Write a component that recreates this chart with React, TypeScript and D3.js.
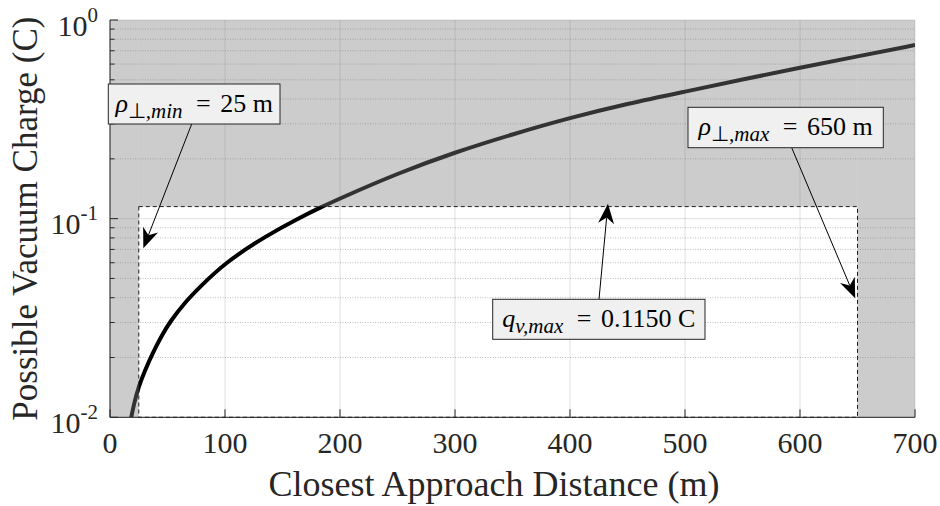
import React from 'react';
import * as d3 from 'd3';

// ---- data ----
const distances = [18.5, 21, 25, 30, 37, 45, 52, 65, 78, 100, 136, 165, 183, 200, 250, 300, 350, 400, 450, 500, 550, 600, 650, 700];
const charges = [0.01, 0.0118, 0.0143, 0.017, 0.021, 0.0258, 0.0302, 0.0378, 0.0452, 0.06, 0.0822, 0.1012, 0.1138, 0.1265, 0.169, 0.216, 0.266, 0.322, 0.379, 0.436, 0.502, 0.575, 0.656, 0.748];
const xTickValues = [0, 100, 200, 300, 400, 500, 600, 700];
const yTickExponents = [-2, -1, 0];
const rhoMin = 25;
const rhoMax = 650;
const qMax = 0.115;
const xLabel = 'Closest Approach Distance (m)';
const yLabel = 'Possible Vacuum Charge (C)';
// arrow tips in data units
const tipMin = [29, 0.071];
const tipMax = [648, 0.0397];
const tipQ = [433, 0.119];

const W = 940, H = 506;
const L = 110, R = 915, T = 20, B = 417.3;
const axisColor = '#262626';
const serif = '"Liberation Serif", "Times New Roman", serif';

function Arrow({ x1, y1, x2, y2 }: { x1: number; y1: number; x2: number; y2: number }) {
  const dx = x2 - x1, dy = y2 - y1;
  const len = Math.hypot(dx, dy);
  const ux = dx / len, uy = dy / len;
  const nx = -uy, ny = ux;
  const hl = 20, hw = 8, notch = 0.7;
  const bx = x2 - hl * ux, by = y2 - hl * uy;
  const pts = [
    [x2, y2],
    [bx + hw * nx, by + hw * ny],
    [x2 - notch * hl * ux, y2 - notch * hl * uy],
    [bx - hw * nx, by - hw * ny],
  ];
  return (
    <g>
      <line x1={x1} y1={y1} x2={x2 - notch * hl * ux} y2={y2 - notch * hl * uy} stroke="#000" strokeWidth={1} />
      <polygon points={pts.map((p) => p.join(',')).join(' ')} fill="#000" />
    </g>
  );
}

export default function App() {
  const x = d3.scaleLinear().domain([0, 700]).range([L, R]);
  const y = d3.scaleLog().domain([0.01, 1]).range([B, T]);

  const pts: [number, number][] = distances.map((d, i) => [x(d), y(charges[i])]);
  const linePath = d3.line().curve(d3.curveBasis)(pts) || '';

  const minorY: number[] = [];
  for (const e of [-2, -1]) for (let k = 2; k <= 9; k++) minorY.push(k * Math.pow(10, e));

  const grayRects = [
    { x0: 0, x1: rhoMin, y0: 0.01, y1: 1 },
    { x0: rhoMax, x1: 700, y0: 0.01, y1: 1 },
    { x0: rhoMin, x1: rhoMax, y0: qMax, y1: 1 },
  ];

  const mainFs = 26;
  const subFs = 21;
  const subDy = 6;

  return (
    <svg width={W} height={H} style={{ position: 'absolute', left: 0, top: 0, background: '#fff' }}>
      <defs>
        <clipPath id="plotClip">
          <rect x={L} y={T} width={R - L} height={B - T} />
        </clipPath>
      </defs>
      {/* grid */}
      <g>
        {xTickValues.map((v) => (
          <line key={'gx' + v} x1={x(v)} x2={x(v)} y1={T} y2={B} stroke={axisColor} strokeOpacity={0.15} strokeWidth={1} />
        ))}
        {yTickExponents.map((e) => (
          <line key={'gy' + e} x1={L} x2={R} y1={y(Math.pow(10, e))} y2={y(Math.pow(10, e))} stroke={axisColor} strokeOpacity={0.15} strokeWidth={1} />
        ))}
        {minorY.map((v) => (
          <line key={'my' + v} x1={L} x2={R} y1={y(v)} y2={y(v)} stroke={axisColor} strokeOpacity={0.3} strokeWidth={1} strokeDasharray="1,1.5" />
        ))}
      </g>
      {/* curve */}
      <path d={linePath} fill="none" stroke="#000" strokeWidth={4} clipPath="url(#plotClip)" />
      {/* dashed rectangle */}
      <rect x={x(rhoMin)} y={y(qMax)} width={x(rhoMax) - x(rhoMin)} height={y(0.01) - y(qMax)} fill="none" stroke="#000" strokeWidth={1} strokeDasharray="4,3" />
      {/* gray shading */}
      {grayRects.map((r, i) => (
        <rect key={'gr' + i} x={x(r.x0)} y={y(r.y1)} width={x(r.x1) - x(r.x0)} height={y(r.y0) - y(r.y1)} fill="#808080" fillOpacity={0.4} />
      ))}
      {/* axes */}
      <g stroke={axisColor} strokeWidth={1}>
        <line x1={L} x2={L} y1={T} y2={B} />
        <line x1={L} x2={R} y1={B} y2={B} />
        {xTickValues.map((v) => (
          <line key={'tx' + v} x1={x(v)} x2={x(v)} y1={B} y2={B - 8} />
        ))}
        {yTickExponents.map((e) => (
          <line key={'ty' + e} x1={L} x2={L + 8} y1={y(Math.pow(10, e))} y2={y(Math.pow(10, e))} />
        ))}
        {minorY.map((v) => (
          <line key={'tmy' + v} x1={L} x2={L + 4.5} y1={y(v)} y2={y(v)} />
        ))}
      </g>
      {/* tick labels */}
      <g fontFamily={serif} fill={axisColor}>
        {xTickValues.map((v) => (
          <text key={'lx' + v} x={x(v)} y={453} fontSize={30} textAnchor="middle">{v}</text>
        ))}
        {yTickExponents.map((e) => (
          <text key={'ly' + e} x={98} y={y(Math.pow(10, e)) + 15.5} fontSize={30} textAnchor="end">
            10<tspan fontSize={21} dy={-14}>{e}</tspan>
          </text>
        ))}
        <text x={494} y={496} fontSize={36} textAnchor="middle">{xLabel}</text>
        <text transform={`translate(37, ${(T + B) / 2}) rotate(-90)`} fontSize={35} textAnchor="middle">{yLabel}</text>
      </g>
      {/* annotations */}
      <Arrow x1={191.7} y1={124} x2={x(tipMin[0])} y2={y(tipMin[1])} />
      <Arrow x1={791.7} y1={147.7} x2={x(tipMax[0])} y2={y(tipMax[1])} />
      <Arrow x1={599} y1={299.3} x2={x(tipQ[0])} y2={y(tipQ[1])} />
      <g fontFamily={serif} fill="#000">
        <rect x={108.3} y={84} width={171.7} height={40} fill="#f0f0f0" stroke={axisColor} strokeWidth={1} />
        <text x={194.2} y={111.5} fontSize={mainFs} textAnchor="middle">
          <tspan fontStyle="italic">ρ</tspan>
          <tspan fontSize={subFs} dy={subDy}>⊥</tspan>
          <tspan fontSize={subFs} fontStyle="italic">,min</tspan>
          <tspan dy={-subDy} dx={7}>{' ='}</tspan>
          <tspan dx={3}>{' ' + rhoMin + ' m'}</tspan>
        </text>
        <rect x={688} y={107.3} width={195.3} height={40.4} fill="#f0f0f0" stroke={axisColor} strokeWidth={1} />
        <text x={785.6} y={135} fontSize={mainFs} textAnchor="middle">
          <tspan fontStyle="italic">ρ</tspan>
          <tspan fontSize={subFs} dy={subDy}>⊥</tspan>
          <tspan fontSize={subFs} fontStyle="italic">,max</tspan>
          <tspan dy={-subDy} dx={7}>{' ='}</tspan>
          <tspan dx={3}>{' ' + rhoMax + ' m'}</tspan>
        </text>
        <rect x={492.7} y={299.3} width={212.3} height={40} fill="#f0f0f0" stroke={axisColor} strokeWidth={1} />
        <text x={598.8} y={327} fontSize={mainFs} textAnchor="middle">
          <tspan fontStyle="italic">q</tspan>
          <tspan fontSize={subFs} dy={subDy} fontStyle="italic">v,max</tspan>
          <tspan dy={-subDy} dx={7}>{' ='}</tspan>
          <tspan dx={3}>{' ' + qMax.toFixed(4) + ' C'}</tspan>
        </text>
      </g>
    </svg>
  );
}
